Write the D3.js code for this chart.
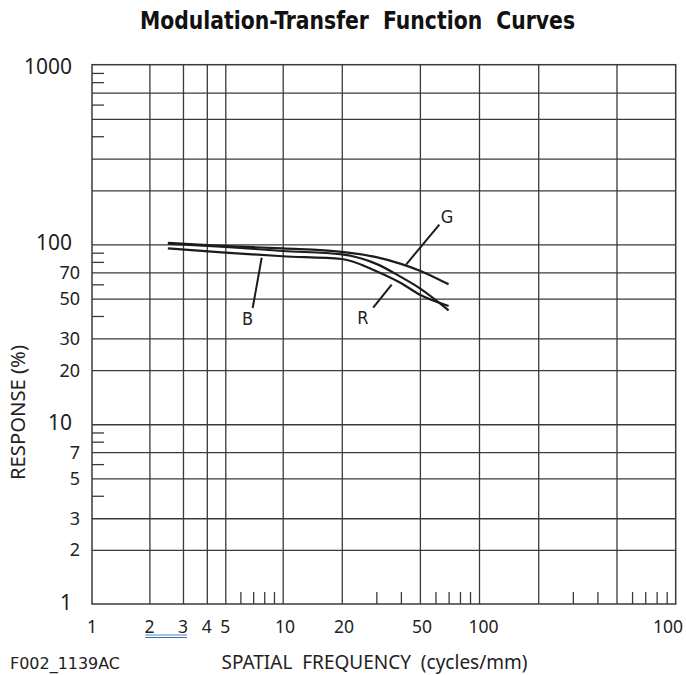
<!DOCTYPE html>
<html><head><meta charset="utf-8">
<script src="https://cdn.jsdelivr.net/npm/d3@7"></script>
<style>html,body{margin:0;padding:0;background:#fff;} svg{display:block;}</style>
</head><body><svg id="c" width="686" height="675"></svg>
<script>
// ---- data ----
const frequencies = [2.5, 5, 10, 20, 30, 40, 50, 70];
const responseG = [102, 98, 95, 91, 85, 78, 71.5, 60];
const responseR = [101, 97, 92, 88, 78, 66, 57, 43];
const responseB = [95, 90, 86, 83, 71, 61, 52.5, 45.5];
const seriesNames = ["G", "R", "B"];

const xGridValues = [2, 3, 4, 5, 10, 20, 50, 100, 200, 500];
const xMinorTicks = [6, 7, 8, 9, 30, 40, 60, 70, 80, 90, 300, 400, 600, 700, 800, 900];
const yGridValues = [2, 3, 5, 7, 10, 20, 30, 50, 70, 100, 200, 300, 500, 700];
const yMinorTicks = [4, 6, 8, 9, 40, 60, 80, 90, 400, 600, 800, 900];
const xTickValues = [1, 2, 3, 4, 5, 10, 20, 50, 100, 1000];
const xTickLabels = ["1", "2", "3", "4", "5", "10", "20", "50", "100", "100"];
const yMajorLabels = [1000, 100, 10, 1];
const yMinorLabels = [70, 50, 30, 20, 7, 5, 3, 2];

// annotation leaders: [label, labelFreq, labelResp, fromFreq, fromResp, toFreq, toResp]
const annotations = [
  ["G", 68.7, 143, 42.5, 77.3, 62.8, 129],
  ["R", 25.6, 39.4, 35.9, 59.8, 28.9, 44.5],
  ["B", 6.54, 38.6, 7.76, 84.3, 6.96, 44.3]
];

// ---- scales ----
const svg = d3.select("#c");
const x = d3.scaleLog().domain([1, 10, 100, 1000]).range([92, 282.7, 479, 675.7]);
const y = d3.scaleLog().domain([1, 1000]).range([604, 64.7]);
const gridColor = "#3a3a3a";

// grid lines
const gx = svg.append("g").attr("transform", `translate(0,${y(1)})`)
  .call(d3.axisBottom(x).tickValues(xGridValues).tickSize(-(y(1) - y(1000))).tickFormat(""));
const gxm = svg.append("g").attr("transform", `translate(0,${y(1)})`)
  .call(d3.axisBottom(x).tickValues(xMinorTicks).tickSize(-12).tickFormat(""));
const gy = svg.append("g").attr("transform", `translate(${x(1)},0)`)
  .call(d3.axisLeft(y).tickValues(yGridValues).tickSize(-(x(1000) - x(1))).tickFormat(""));
const gym = svg.append("g").attr("transform", `translate(${x(1)},0)`)
  .call(d3.axisLeft(y).tickValues(yMinorTicks).tickSize(-12).tickFormat(""));
[gx, gxm, gy, gym].forEach(g => {
  g.select(".domain").remove();
  g.selectAll("line").attr("stroke", gridColor).attr("stroke-width", 1.3);
});
svg.append("rect")
  .attr("x", x(1)).attr("y", y(1000))
  .attr("width", x(1000) - x(1)).attr("height", y(1) - y(1000))
  .attr("fill", "none").attr("stroke", gridColor).attr("stroke-width", 1.5);

// curves
const line = d3.line().x(d => x(d[0])).y(d => y(d[1])).curve(d3.curveMonotoneX);
[responseG, responseR, responseB].forEach(vals => {
  svg.append("path")
    .datum(frequencies.map((f, i) => [f, vals[i]]))
    .attr("d", line)
    .attr("fill", "none").attr("stroke", "#1c1c1c").attr("stroke-width", 2.2);
});

// annotations
annotations.forEach(a => {
  svg.append("line")
    .attr("x1", x(a[3])).attr("y1", y(a[4]))
    .attr("x2", x(a[5])).attr("y2", y(a[6]))
    .attr("stroke", "#1c1c1c").attr("stroke-width", 2);
  svg.append("text")
    .attr("x", x(a[1])).attr("y", y(a[2]))
    .attr("text-anchor", "middle").attr("dominant-baseline", "central")
    .attr("font-family", "'DejaVu Sans Condensed','DejaVu Sans',sans-serif")
    .attr("font-size", 18).attr("fill", "#222").text(a[0]);
});

const numFont = "'Noto Sans','DejaVu Sans',sans-serif";
// y labels
svg.selectAll(".ybig").data(yMajorLabels).enter().append("text")
  .attr("x", 72).attr("y", d => y(d) + (d === 1000 ? 9 : 6))
  .attr("text-anchor", "end").attr("font-family", numFont)
  .attr("font-size", 21).attr("fill", "#222").text(d => d);
svg.selectAll(".ysmall").data(yMinorLabels).enter().append("text")
  .attr("x", 80).attr("y", d => y(d) + 6.5)
  .attr("text-anchor", "end").attr("font-family", numFont)
  .attr("font-size", 18).attr("fill", "#222").text(d => d);

// x labels
svg.selectAll(".xl").data(xTickValues).enter().append("text")
  .attr("x", (d, i) => x(d) + (xTickLabels[i].length - 1) * 2.2 + (d === 1000 ? -12 : 0))
  .attr("y", 633)
  .attr("text-anchor", "middle").attr("font-family", numFont)
  .attr("font-size", 17.5).attr("fill", "#222")
  .text((d, i) => xTickLabels[i]);

// double blue underline under "2 3"
[635, 637.5].forEach((yy, i) => {
  svg.append("line")
    .attr("x1", x(2) - 4).attr("x2", x(3) + 4)
    .attr("y1", yy).attr("y2", yy)
    .attr("stroke", i === 0 ? "#4f86c6" : "#3b6fb0").attr("stroke-width", 1);
});

// titles
const condFont = "'DejaVu Sans Condensed','DejaVu Sans',sans-serif";
svg.append("text").attr("x", 140).attr("y", 29)
  .attr("font-family", condFont).attr("font-weight", "bold").attr("font-size", 24)
  .attr("textLength", 435).attr("lengthAdjust", "spacingAndGlyphs")
  .attr("fill", "#111").style("white-space", "pre")
  .text("Modulation-Transfer  Function  Curves");

svg.append("text").attr("x", 221.5).attr("y", 669)
  .attr("font-family", numFont).attr("font-size", 19)
  .attr("textLength", 306).attr("lengthAdjust", "spacingAndGlyphs")
  .attr("fill", "#222").style("white-space", "pre")
  .text("SPATIAL  FREQUENCY  (cycles/mm)");

svg.append("text").attr("x", 10).attr("y", 669)
  .attr("font-family", condFont).attr("font-size", 16)
  .attr("textLength", 110).attr("lengthAdjust", "spacingAndGlyphs")
  .attr("fill", "#222").text("F002_1139AC");

svg.append("text")
  .attr("transform", "translate(25,480) rotate(-90)")
  .attr("font-family", numFont).attr("font-size", 19)
  .attr("textLength", 135).attr("lengthAdjust", "spacingAndGlyphs")
  .attr("fill", "#222").text("RESPONSE (%)");
</script>
</body></html>
